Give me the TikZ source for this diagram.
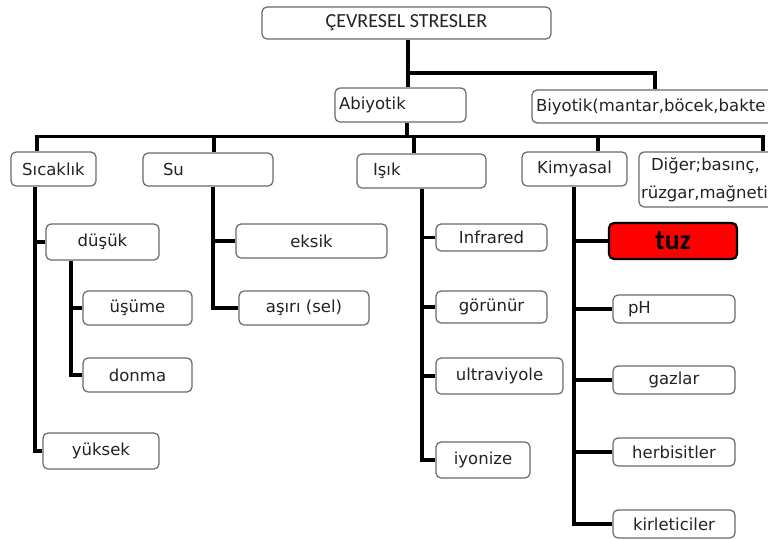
\documentclass[tikz,border=0pt]{standalone}
\usepackage{fontspec}
\setmainfont{DejaVu Sans}
\newfontfamily\calibrifont{Carlito}
\usetikzlibrary{%
    backgrounds,
    positioning
}
\definecolor{boxline}{RGB}{105,105,105}
\definecolor{inktext}{RGB}{35,35,35}
\definecolor{saltred}{RGB}{255,0,0}
\tikzset{
    box/.style = {draw=boxline, line width=1.2pt, rounded corners=5pt, fill=white,
        inner sep=0pt, text=inktext, font=\fontsize{16.5}{20}\selectfont},
    leftbox/.style = {box, align=left},
    link/.style = {line width=3.2pt}
}

\begin{document}
\begin{tikzpicture}[x=1pt,y=-1pt]
    \useasboundingbox (0,0) rectangle (768,539);
    \clip (0,0) rectangle (768,539);

    \node[box, font=\calibrifont\fontsize{20}{24}\selectfont, minimum width=289pt, minimum height=32pt] (title) at (406.5,23) {ÇEVRESEL STRESLER};
    \node[leftbox, minimum height=34pt, inner xsep=4pt, text width=123pt] (abiyotik) at (400.5,105) {Abiyotik};
    \node[leftbox, minimum height=33pt, inner xsep=4pt, text width=238pt] (biyotik) at (655,106.5) {Biyotik(mantar,böcek,bakte};

    \node[box, minimum width=85pt, minimum height=34pt] (sicaklik) at (53.5,169) {Sıcaklık};
    \node[leftbox, minimum height=33pt, inner xsep=20pt, text width=90pt] (su) at (208,169.5) {Su};
    \node[leftbox, minimum height=34pt, inner xsep=16pt, text width=97pt] (isik) at (421.5,171) {Işık};
    \node[box, minimum width=105pt, minimum height=34pt] (kimyasal) at (574.5,169) {Kimyasal};
    \node[leftbox, font=\fontsize{16.5}{28}\selectfont, minimum height=55pt, inner xsep=2pt, text width=244pt] (diger) at (763,179.5)
        {\hspace*{10pt}Diğer;basınç,\\rüzgar,mağneti};

    \foreach \name/\x/\y/\w/\h/\Label in {%
        dusuk/102.5/242/113/36/düşük,
        usume/137.5/308/109/34/üşüme,
        donma/137.5/375/109/34/donma,
        yuksek/101/451/116/36/yüksek,
        eksik/311.5/241/151/34/eksik,
        asiri/304/308/130/34/aşırı (sel),
        infrared/491.5/237.5/111/27/Infrared,
        gorunur/491.5/307/111/32/görünür,
        ultraviyole/499.5/376/127/36/ultraviyole,
        iyonize/483/460/94/36/iyonize,
        gazlar/674/380/122/28/gazlar,
        herbisitler/674/452/122/28/herbisitler,
        kirleticiler/674/524/122/28/kirleticiler%
        }
    \node[box, minimum width=\w pt, minimum height=\h pt] (\name) at (\x,\y) {\Label};

    \node[leftbox, minimum height=28pt, inner xsep=15pt, text width=92pt] (ph) at (674,309) {pH};
    \node[box, draw=black, fill=saltred, line width=2.2pt, text=black,
        font=\calibrifont\bfseries\fontsize{28}{32}\selectfont,
        minimum width=128pt, minimum height=36pt] (tuz) at (673,241) {tuz};

    \begin{scope}[on background layer]
        \fill[white] (0,0) rectangle (768,539);
        \coordinate (split) at (408,73);
        \coordinate (bus) at (407,136.5);
        \draw[link] (title.south -| split) -- (abiyotik.north -| split);
        \draw[link] (split) -| (biyotik.north);
        \draw[link] (abiyotik.south -| bus) -- (bus);
        \draw[link] (sicaklik.north -| 37,0) |- (bus) -- (bus -| diger.north) -- (diger.north);
        \foreach \name/\x in {su/214, isik/414, kimyasal/598}
            \draw[link] (bus -| \x,0) -- (\name.north -| \x,0);

        \foreach \parent/\x/\last in {sicaklik/35/yuksek, dusuk/71/donma, su/213/asiri, isik/422/iyonize, kimyasal/574/kirleticiler}
            \draw[link] (\parent.south -| \x,0) |- (\last.west);
        \foreach \leaf/\x in {dusuk/35, usume/71, eksik/213, infrared/422, gorunur/422, ultraviyole/422, tuz/574, ph/574, gazlar/574, herbisitler/574}
            \draw[link] (\leaf.west -| \x,0) -- (\leaf.west);
    \end{scope}
\end{tikzpicture}
\end{document}
